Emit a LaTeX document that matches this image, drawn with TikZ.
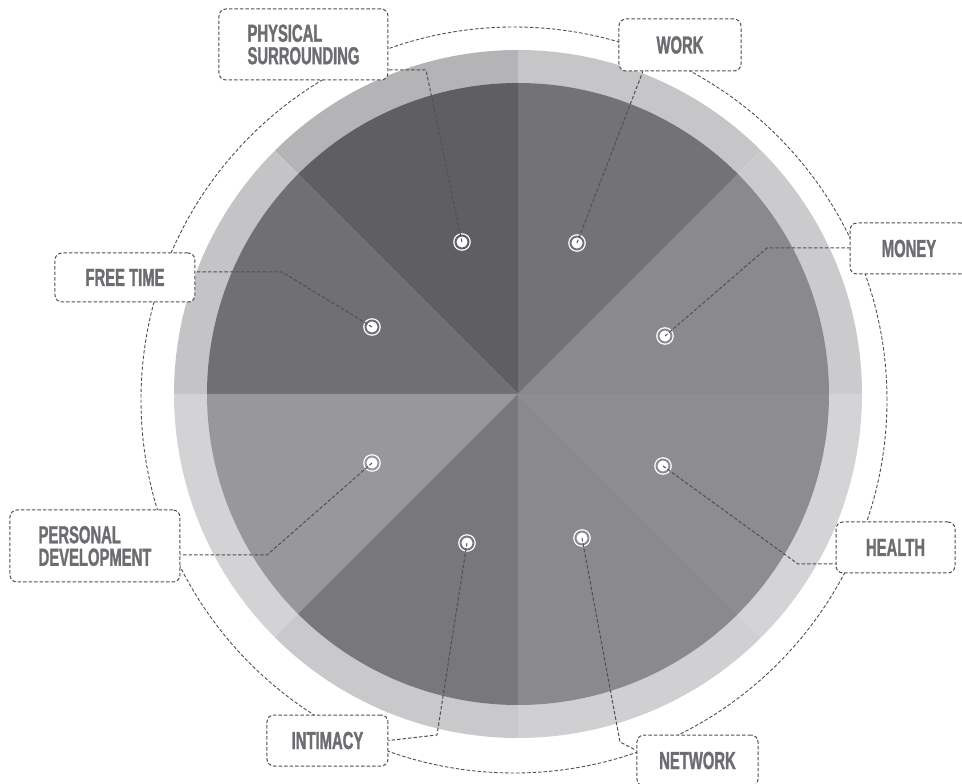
\documentclass[tikz,border=0pt]{standalone}
\usepackage{fontspec}
\newfontfamily\tagfont[FakeStretch=0.6, FakeBold=1.2]{Liberation Sans}

\definecolor{tagtext}{HTML}{6C6D71}
\definecolor{dashgray}{HTML}{505054}
\definecolor{pieMoney}{HTML}{8A8A8E}
\definecolor{pieWork}{HTML}{737377}
\definecolor{piePhys}{HTML}{5F5F63}
\definecolor{pieFree}{HTML}{707074}
\definecolor{piePers}{HTML}{98989C}
\definecolor{pieInt}{HTML}{78787C}
\definecolor{pieNet}{HTML}{8A8A8E}
\definecolor{pieHealth}{HTML}{8D8D91}
\definecolor{ringMoney}{HTML}{CBCBCD}
\definecolor{ringWork}{HTML}{C6C6C8}
\definecolor{ringPhys}{HTML}{B4B4B7}
\definecolor{ringFree}{HTML}{C4C4C6}
\definecolor{ringPers}{HTML}{D3D3D5}
\definecolor{ringInt}{HTML}{C9C9CB}
\definecolor{ringNet}{HTML}{D0D0D2}
\definecolor{ringHealth}{HTML}{D4D4D6}

\begin{document}
\begin{tikzpicture}[x=1pt, y=1pt,
    tag/.style={draw=dashgray, line width=1pt, dash pattern=on 3.5pt off 2pt,
        rounded corners=7pt, fill=white, text=tagtext, align=left,
        font=\tagfont\bfseries\fontsize{24.7}{22.5}\selectfont,
        minimum width=121pt, minimum height=51pt, inner sep=0pt},
    spot/.style={circle, fill=white, draw=white, line width=1.3pt,
        double distance=2pt, minimum size=13pt, inner sep=0pt},
    lead/.style={draw=dashgray, line width=1pt, dash pattern=on 3.5pt off 2pt},
    orbit/.style={draw=dashgray, line width=0.9pt, dash pattern=on 3.5pt off 2pt}]
    \useasboundingbox (-518,-390) rectangle (444,394);

    \fill[ringMoney] (0,0) -- (0:344) arc[start angle=0, delta angle=45, radius=344pt] -- cycle;
    \fill[ringWork] (0,0) -- (45:344) arc[start angle=45, delta angle=45, radius=344pt] -- cycle;
    \fill[ringPhys] (0,0) -- (90:344) arc[start angle=90, delta angle=45, radius=344pt] -- cycle;
    \fill[ringFree] (0,0) -- (135:344) arc[start angle=135, delta angle=45, radius=344pt] -- cycle;
    \fill[ringPers] (0,0) -- (180:344) arc[start angle=180, delta angle=45, radius=344pt] -- cycle;
    \fill[ringInt] (0,0) -- (225:344) arc[start angle=225, delta angle=45, radius=344pt] -- cycle;
    \fill[ringNet] (0,0) -- (270:344) arc[start angle=270, delta angle=45, radius=344pt] -- cycle;
    \fill[ringHealth] (0,0) -- (315:344) arc[start angle=315, delta angle=45, radius=344pt] -- cycle;

    \fill[pieMoney] (0,0) -- (0:311) arc[start angle=0, delta angle=45, radius=311pt] -- cycle;
    \fill[pieWork] (0,0) -- (45:311) arc[start angle=45, delta angle=45, radius=311pt] -- cycle;
    \fill[piePhys] (0,0) -- (90:311) arc[start angle=90, delta angle=45, radius=311pt] -- cycle;
    \fill[pieFree] (0,0) -- (135:311) arc[start angle=135, delta angle=45, radius=311pt] -- cycle;
    \fill[piePers] (0,0) -- (180:311) arc[start angle=180, delta angle=45, radius=311pt] -- cycle;
    \fill[pieInt] (0,0) -- (225:311) arc[start angle=225, delta angle=45, radius=311pt] -- cycle;
    \fill[pieNet] (0,0) -- (270:311) arc[start angle=270, delta angle=45, radius=311pt] -- cycle;
    \fill[pieHealth] (0,0) -- (315:311) arc[start angle=315, delta angle=45, radius=311pt] -- cycle;

    \path[orbit] (-4,-6) circle[radius=373pt];

    \node[spot, double=piePhys] (sPhys) at (-56,152) {};
    \node[spot, double=pieWork] (sWork) at (59,151) {};
    \node[spot, double=pieMoney] (sMoney) at (147,58) {};
    \node[spot, double=pieFree] (sFree) at (-146,67) {};
    \node[spot, double=piePers] (sPers) at (-146,-69) {};
    \node[spot, double=pieHealth] (sHealth) at (145,-72) {};
    \node[spot, double=pieInt] (sInt) at (-51,-149) {};
    \node[spot, double=pieNet] (sNet) at (64,-144) {};

    \node[tag, minimum width=169pt, minimum height=71pt] (physical) at (-214.5,349.5) {PHYSICAL\\SURROUNDING};
    \node[tag, minimum width=122pt, minimum height=52pt] (work) at (162,349) {WORK};
    \node[tag, minimum width=118pt] (money) at (391,145.5) {MONEY};
    \node[tag, minimum width=140pt, minimum height=49pt] (freetime) at (-393,116.5) {FREE TIME};
    \node[tag, minimum width=170pt, minimum height=72pt] (personal) at (-423,-152) {PERSONAL\\DEVELOPMENT};
    \node[tag] (intimacy) at (-190.5,-346.5) {INTIMACY};
    \node[tag] (network) at (179.5,-366.5) {NETWORK};
    \node[tag, minimum width=119pt] (health) at (377.5,-153.5) {HEALTH};

    \coordinate (kPhys) at (-92,324);
    \coordinate (kWork) at (125,323);
    \coordinate (kMoney) at (249,146);
    \coordinate (kFree) at (-236,122);
    \coordinate (kPers) at (-251,-161);
    \coordinate (kHealth) at (280,-170);
    \coordinate (kInt) at (-81,-341);
    \coordinate (kNet) at (102,-348);

    \path[lead] (sPhys.center) -- (kPhys) -- (kPhys -| physical.east);
    \path[lead] (sWork.center) -- (kWork);
    \path[lead] (sMoney.center) -- (kMoney) -- (kMoney -| money.west);
    \path[lead] (sFree.center) -- (kFree) -- (kFree -| freetime.east);
    \path[lead] (sPers.center) -- (kPers) -- (kPers -| personal.east);
    \path[lead] (sHealth.center) -- (kHealth) -- (kHealth -| health.west);
    \path[lead] (sInt.center) -- (kInt) -- (intimacy.east);
    \path[lead] (sNet.center) -- (kNet) -- ([yshift=10pt]network.west);
\end{tikzpicture}
\end{document}
